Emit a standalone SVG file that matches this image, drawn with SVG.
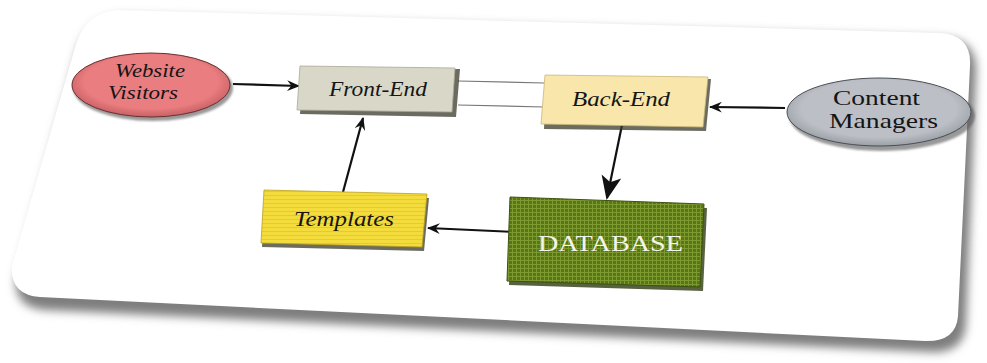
<svg xmlns="http://www.w3.org/2000/svg" width="987" height="363" viewBox="0 0 987 363">
<defs>
<style>
.lbl{font-family:"Liberation Serif","DejaVu Serif",serif;font-size:21px;fill:#151515}
.it{font-style:italic}
.sm{font-size:19px}
.conn{stroke:#111;stroke-width:2.2;fill:none}
.thin{stroke:#777;stroke-width:1.2;fill:none}
.shadow{fill:#3a3a2a;opacity:0.75}
</style>
<filter id="blur" x="-10%" y="-10%" width="120%" height="130%"><feGaussianBlur stdDeviation="5"/></filter>
<filter id="soft" x="-10%" y="-10%" width="120%" height="130%"><feGaussianBlur stdDeviation="1.2"/></filter>
<marker id="ah" viewBox="0 0 12 10" refX="11" refY="5" markerWidth="13" markerHeight="11" markerUnits="userSpaceOnUse" orient="auto">
<path d="M0,0 L12,5 L0,10 L4,5 Z" fill="#111"/>
</marker>
<marker id="ahBig" viewBox="0 0 12 10" refX="11" refY="5" markerWidth="24" markerHeight="22" markerUnits="userSpaceOnUse" orient="auto">
<path d="M0,0 L12,5 L0,10 L3,5 Z" fill="#111"/>
</marker>
<pattern id="grid" width="4" height="4" patternUnits="userSpaceOnUse">
<rect width="4" height="4" fill="#587619"/>
<path d="M0,0.5 H4 M0.5,0 V4" stroke="#7d9a30" stroke-width="1"/>
</pattern>
<pattern id="hlines" width="6" height="4" patternUnits="userSpaceOnUse">
<rect width="6" height="4" fill="#f3dc3c"/>
<path d="M0,3.5 H6" stroke="#e2c52a" stroke-width="0.8"/>
</pattern>
<radialGradient id="redG" cx="0.5" cy="0.45" r="0.6">
<stop offset="0.7" stop-color="#ea7d80"/><stop offset="1" stop-color="#b9555a"/>
</radialGradient>
<radialGradient id="grayG" cx="0.5" cy="0.45" r="0.6">
<stop offset="0.7" stop-color="#bcc0c6"/><stop offset="1" stop-color="#8e939a"/>
</radialGradient>
</defs>

<g id="panel">
<path d="M122,16 L945,38 Q978,40 976,74 L966,324 Q964,354 930,352 L45,310 Q14,308 16,278 L78,52 Q88,18 122,16 Z" fill="#7e7e7e" filter="url(#blur)"/>
<path d="M118,10 L940,33 Q972,35 970,66 L958,316 Q956,342 925,341 L40,297 Q10,295 12,266 L76,44 Q86,12 118,10 Z" fill="#ffffff"/>
</g>

<g id="connectors">
<line class="thin" x1="458" y1="81" x2="544" y2="83"/>
<line class="thin" x1="458" y1="105" x2="544" y2="107"/>
<line class="conn" x1="233" y1="84" x2="299" y2="86" marker-end="url(#ah)"/>
<line class="conn" x1="785" y1="108" x2="710" y2="107" marker-end="url(#ah)"/>
<line class="conn" x1="622" y1="125" x2="607" y2="198" stroke-width="3" marker-end="url(#ahBig)"/>
<line class="conn" x1="515" y1="232" x2="428" y2="228" marker-end="url(#ah)"/>
<line class="conn" x1="343" y1="192" x2="363" y2="118" marker-end="url(#ah)"/>
</g>

<g id="website-visitors">
<ellipse cx="153" cy="88" rx="80" ry="33" fill="#555" opacity="0.6" filter="url(#soft)"/>
<ellipse cx="151" cy="85" rx="79" ry="32" fill="url(#redG)" stroke="#6a3030" stroke-width="1"/>
<text class="lbl it sm" x="115" y="77" textLength="70" lengthAdjust="spacingAndGlyphs">Website</text>
<text class="lbl it sm" x="108" y="99" textLength="70" lengthAdjust="spacingAndGlyphs">Visitors</text>
</g>

<g id="front-end">
<polygon class="shadow" points="303,70 460,69 456,117 300,114"/>
<polygon points="300,66 455,68 452,112 297,110" fill="#d9d7c7" stroke="#a9a797" stroke-width="0.8"/>
<text class="lbl it" x="329" y="96" textLength="98" lengthAdjust="spacingAndGlyphs">Front-End</text>
</g>

<g id="back-end">
<polygon class="shadow" points="546,79 711,79 706,131 544,129"/>
<polygon points="545,75 708,77 703,127 541,124" fill="#f8e6aa" stroke="#c9b67a" stroke-width="0.8"/>
<text class="lbl it" x="572" y="106" textLength="98" lengthAdjust="spacingAndGlyphs">Back-End</text>
</g>

<g id="content-managers">
<ellipse cx="882" cy="116" rx="93" ry="35" fill="#555" opacity="0.6" filter="url(#soft)"/>
<ellipse cx="879" cy="112" rx="92" ry="34" fill="url(#grayG)" stroke="#4a4e55" stroke-width="1"/>
<text class="lbl" x="833" y="105" textLength="87" lengthAdjust="spacingAndGlyphs">Content</text>
<text class="lbl" x="829" y="128" textLength="109" lengthAdjust="spacingAndGlyphs">Managers</text>
</g>

<g id="database">
<polygon points="512,201 707,208 703,291 509,285" fill="#2e3a10" opacity="0.8"/>
<polygon points="510,197 704,204 700,287 507,281" fill="url(#grid)" stroke="#3d5210" stroke-width="1"/>
<text class="lbl" x="538" y="251" textLength="145" lengthAdjust="spacingAndGlyphs" style="fill:#f4f4ec;font-size:23px">DATABASE</text>
</g>

<g id="templates">
<polygon class="shadow" points="265,194 429,198 424,251 262,247"/>
<polygon points="264,190 427,194 422,247 261,243" fill="url(#hlines)" stroke="#b9a020" stroke-width="0.8"/>
<text class="lbl it" x="294" y="226" textLength="100" lengthAdjust="spacingAndGlyphs">Templates</text>
</g>
</svg>
